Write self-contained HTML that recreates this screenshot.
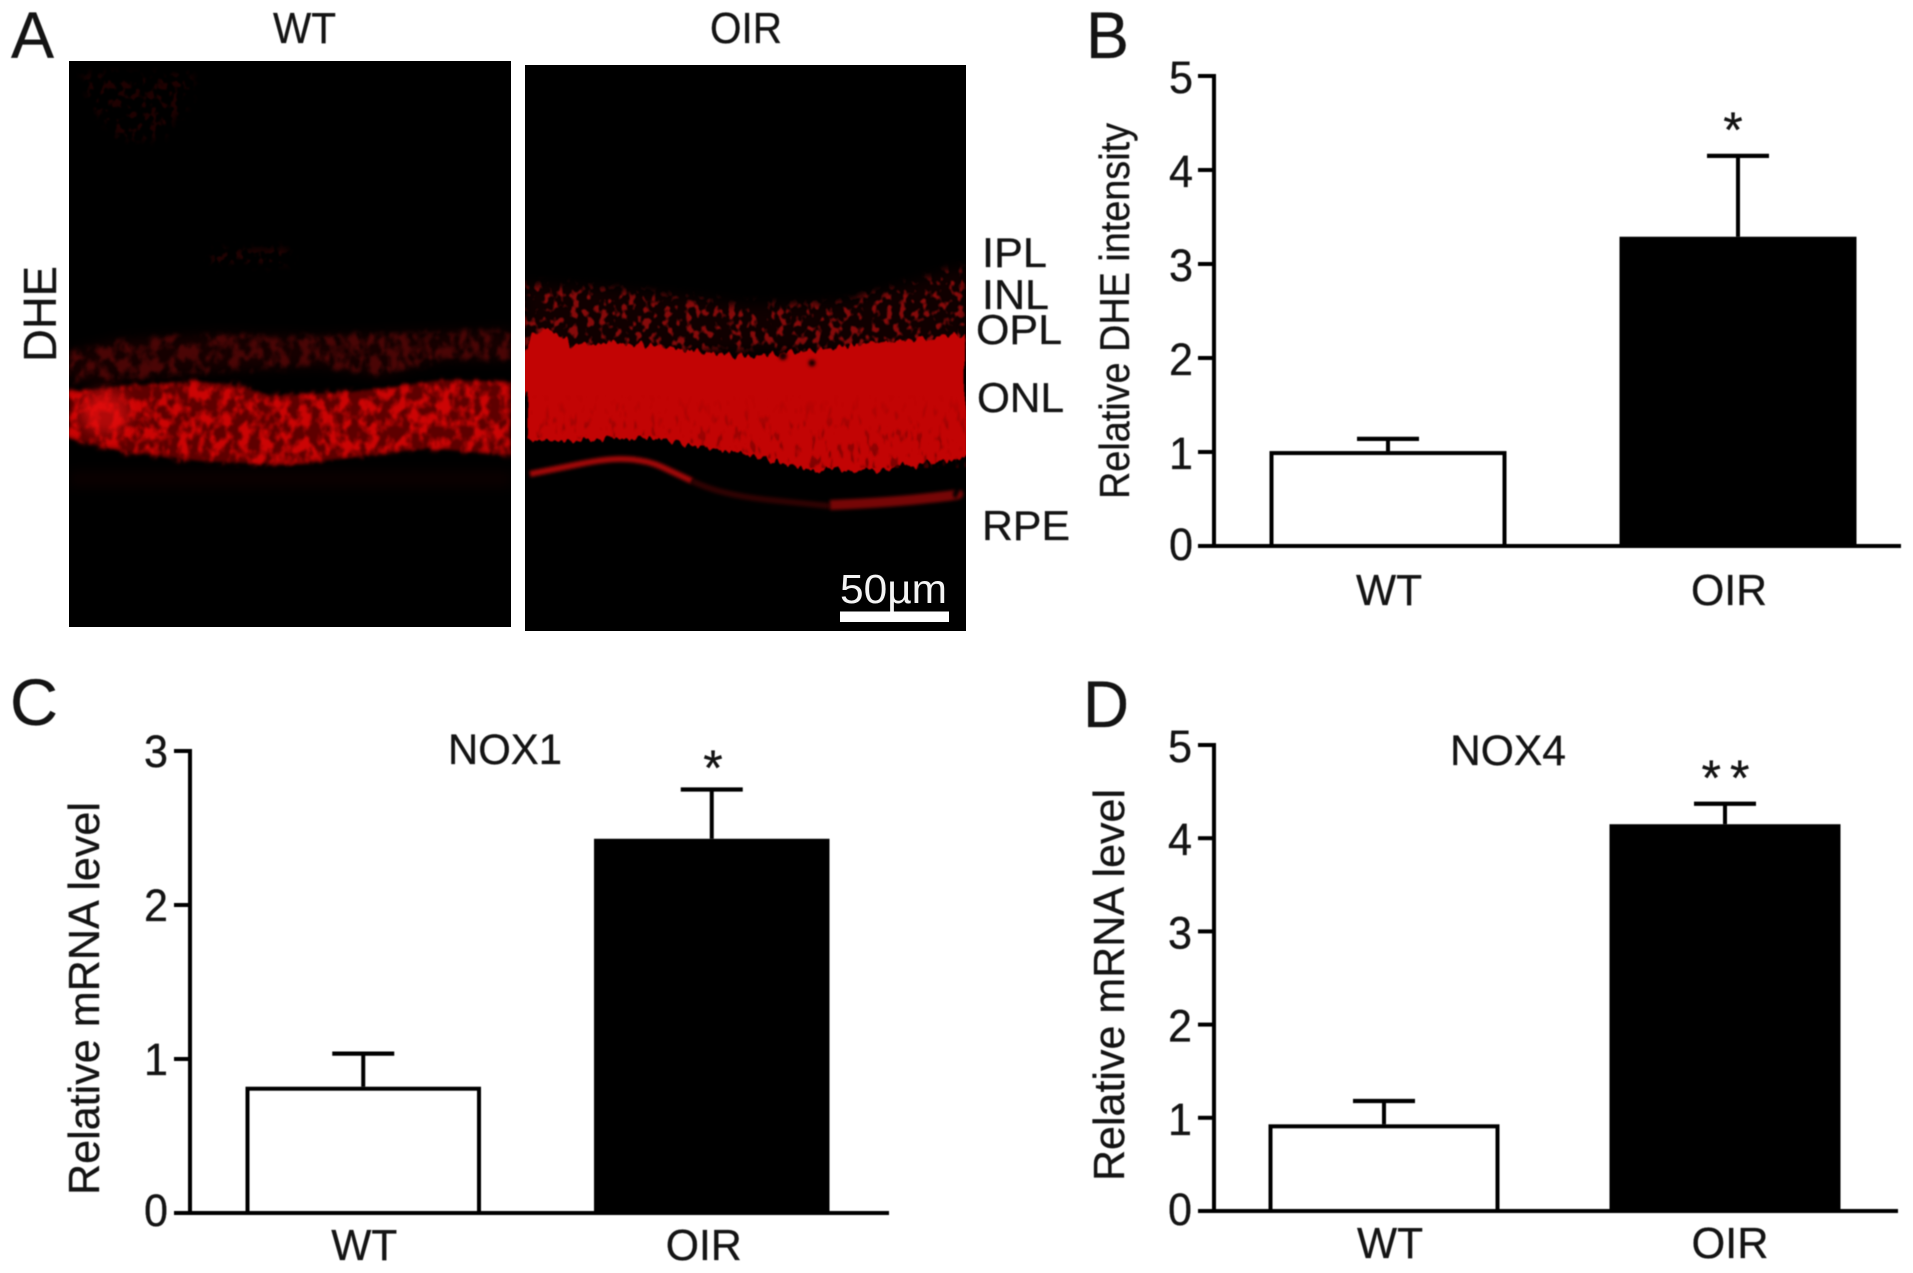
<!DOCTYPE html>
<html lang="en">
<head>
<meta charset="utf-8">
<title>DHE intensity and NOX mRNA levels, WT vs OIR</title>
<style>
  html, body { margin: 0; padding: 0; background: #fff; }
  svg { display: block; }
  text { font-family: "Liberation Sans", sans-serif; fill: #141414; stroke: #141414; stroke-width: 0.3; }
</style>
</head>
<body>
<svg id="figure" xmlns="http://www.w3.org/2000/svg" width="1913" height="1273" viewBox="0 0 1913 1273">
  <defs>
    <filter id="soft" x="-5%" y="-5%" width="110%" height="110%" color-interpolation-filters="sRGB">
      <feGaussianBlur stdDeviation="0.6"/>
    </filter>
    <filter id="blur1" filterUnits="userSpaceOnUse" x="0" y="0" width="1000" height="700" color-interpolation-filters="sRGB">
      <feGaussianBlur stdDeviation="1.6"/>
    </filter>
    <filter id="blur6" filterUnits="userSpaceOnUse" x="0" y="0" width="1000" height="700" color-interpolation-filters="sRGB">
      <feGaussianBlur stdDeviation="6"/>
    </filter>
    <filter id="mottle" filterUnits="userSpaceOnUse" x="0" y="0" width="1000" height="700" color-interpolation-filters="sRGB">
      <feTurbulence type="fractalNoise" baseFrequency="0.1 0.075" numOctaves="3" seed="4" result="n"/>
      <feDisplacementMap in="SourceGraphic" in2="n" scale="12" xChannelSelector="R" yChannelSelector="G" result="d"/>
      <feGaussianBlur in="d" stdDeviation="2" result="s"/>
      <feColorMatrix in="n" type="matrix" values="0 0 0 0 0  0 0 0 0 0  0 0 0 0 0  4 0 0 0 -1.6" result="m"/>
      <feComposite in="s" in2="m" operator="in"/>
      <feGaussianBlur stdDeviation="1"/>
    </filter>
    <filter id="speckle" filterUnits="userSpaceOnUse" x="0" y="0" width="1000" height="700" color-interpolation-filters="sRGB">
      <feTurbulence type="fractalNoise" baseFrequency="0.14 0.11" numOctaves="2" seed="11" result="n"/>
      <feDisplacementMap in="SourceGraphic" in2="n" scale="14" xChannelSelector="R" yChannelSelector="G" result="d"/>
      <feGaussianBlur in="d" stdDeviation="4" result="s"/>
      <feColorMatrix in="n" type="matrix" values="0 0 0 0 0  0 0 0 0 0  0 0 0 0 0  7 0 0 0 -3.7" result="m"/>
      <feComposite in="s" in2="m" operator="in"/>
      <feGaussianBlur stdDeviation="0.9"/>
    </filter>
    <filter id="jagged" filterUnits="userSpaceOnUse" x="0" y="0" width="1000" height="700" color-interpolation-filters="sRGB">
      <feTurbulence type="fractalNoise" baseFrequency="0.16 0.02" numOctaves="2" seed="3" result="n"/>
      <feDisplacementMap in="SourceGraphic" in2="n" scale="14" xChannelSelector="G" yChannelSelector="R"/>
      <feGaussianBlur stdDeviation="0.8"/>
    </filter>
    <filter id="holes" filterUnits="userSpaceOnUse" x="0" y="0" width="1000" height="700" color-interpolation-filters="sRGB">
      <feTurbulence type="fractalNoise" baseFrequency="0.18 0.07" numOctaves="2" seed="7" result="n"/>
      <feColorMatrix in="n" type="matrix" values="0 0 0 0 0  0 0 0 0 0  0 0 0 0 0  -7 0 0 0 3.0" result="m"/>
      <feComposite in="SourceGraphic" in2="m" operator="in"/>
      <feGaussianBlur stdDeviation="0.8"/>
    </filter>
    <linearGradient id="holeFade" gradientUnits="userSpaceOnUse" x1="0" y1="395" x2="0" y2="470">
      <stop offset="0" stop-color="#5a0000" stop-opacity="0"/>
      <stop offset="0.5" stop-color="#5a0000" stop-opacity="0.35"/>
      <stop offset="1" stop-color="#5a0000" stop-opacity="0.7"/>
    </linearGradient>
    <clipPath id="clipWT"><rect x="69" y="61" width="442" height="566"/></clipPath>
    <clipPath id="clipOIR"><rect x="525" y="65" width="441" height="566"/></clipPath>
  </defs>

  <rect x="0" y="0" width="1913" height="1273" fill="#ffffff"/>

  <!-- Panel A : micrographs -->
  <g clip-path="url(#clipWT)">
    <rect x="69" y="61" width="442" height="566" fill="#000"/>
    <g>
      <path d="M84 74H196L186 108L160 140L118 140L90 100Z" fill="#1f0101" filter="url(#speckle)"/>
      <path d="M212 250H290V264H212Z" fill="#260202" filter="url(#speckle)"/>
      <path d="M70 472H511V486H70Z" fill="#0c0000" filter="url(#blur6)"/>
    </g>
    <g>
      <path d="M69 352L120 340L220 334L320 336L420 332L511 330V360L440 360L380 376L320 366L240 370L160 376L69 382Z" fill="#160000" filter="url(#blur6)"/>
      <path d="M69 352L120 340L220 334L320 336L420 332L511 330V360L440 360L380 376L320 366L240 370L160 376L69 382Z" fill="#4a0505" filter="url(#mottle)"/>
    </g>
    <g>
      <path d="M69 392L130 386L200 382L240 386L270 396L310 394L350 392L400 386L440 380L511 382V455L470 452L430 448L370 455L290 465L200 461L120 451L69 438Z" fill="#5e0000" filter="url(#blur1)"/>
      <path d="M69 392L130 386L200 382L240 386L270 396L310 394L350 392L400 386L440 380L511 382V455L470 452L430 448L370 455L290 465L200 461L120 451L69 438Z" fill="#cc0404" filter="url(#mottle)"/>
      <ellipse cx="105" cy="412" rx="26" ry="22" fill="#e81010" opacity="0.6" filter="url(#blur6)"/>
    </g>
  </g>

  <g clip-path="url(#clipOIR)">
    <rect x="525" y="65" width="441" height="566" fill="#000"/>
    <g>
      <path d="M525 284L600 288L680 296L750 306L850 302L910 284L966 266V350H525Z" fill="#100000" filter="url(#blur6)"/>
      <path d="M525 284L600 288L680 296L750 306L850 302L910 284L966 266V350H525Z" fill="#860a0a" filter="url(#speckle)"/>
    </g>
    <g>
      <path d="M525 345L532 334L545 327L558 333L572 345L610 343L650 345L700 352L750 356L800 352L850 346L900 340L966 335V457L930 464L880 470L810 470L780 463L735 452L700 447L650 437L590 441L525 440Z" fill="#c20404" filter="url(#jagged)"/>
      <path d="M525 395H966V468L880 468L810 468L780 461L735 450L700 445L650 435L590 439L525 438Z" fill="url(#holeFade)" filter="url(#holes)"/>
      <circle cx="783" cy="356" r="4" fill="#1a0000" filter="url(#blur1)"/>
      <circle cx="812" cy="363" r="3.5" fill="#1a0000" filter="url(#blur1)"/>
    </g>
    <g>
      <path d="M530 474Q555 469 580 464T620 459Q645 459 662 467T692 481" fill="none" stroke="#a00808" stroke-width="6" filter="url(#blur1)"/>
      <path d="M692 481Q720 495 770 500T830 506" fill="none" stroke="#300202" stroke-width="6" filter="url(#blur1)"/>
      <path d="M830 505Q880 503 920 499T958 494" fill="none" stroke="#760606" stroke-width="10" filter="url(#blur1)"/>
    </g>
    <text x="840" y="603" font-size="41" textLength="107" lengthAdjust="spacingAndGlyphs" style="fill:#f4f4f4;stroke:none">50µm</text>
    <rect x="840" y="611.5" width="109" height="10.5" fill="#ffffff"/>
  </g>

  <g filter="url(#soft)">
    <text x="11" y="58" font-size="66" textLength="43" lengthAdjust="spacingAndGlyphs">A</text>
    <text x="1086" y="58" font-size="66" textLength="43" lengthAdjust="spacingAndGlyphs">B</text>
    <text x="10" y="725" font-size="66" textLength="48" lengthAdjust="spacingAndGlyphs">C</text>
    <text x="1083" y="727" font-size="66" textLength="46" lengthAdjust="spacingAndGlyphs">D</text>

    <text x="273" y="43" font-size="44" textLength="63" lengthAdjust="spacingAndGlyphs">WT</text>
    <text x="710" y="43" font-size="44" textLength="72" lengthAdjust="spacingAndGlyphs">OIR</text>
    <text transform="translate(56 362) rotate(-90)" font-size="46" textLength="96" lengthAdjust="spacingAndGlyphs">DHE</text>

    <text x="982" y="267" font-size="42" textLength="65" lengthAdjust="spacingAndGlyphs">IPL</text>
    <text x="982" y="309" font-size="42" textLength="67" lengthAdjust="spacingAndGlyphs">INL</text>
    <text x="976" y="344" font-size="42" textLength="86" lengthAdjust="spacingAndGlyphs">OPL</text>
    <text x="977" y="412" font-size="42" textLength="87" lengthAdjust="spacingAndGlyphs">ONL</text>
    <text x="982" y="540" font-size="42" textLength="88" lengthAdjust="spacingAndGlyphs">RPE</text>

    <text transform="translate(1129 499) rotate(-90)" font-size="42" textLength="376" lengthAdjust="spacingAndGlyphs">Relative DHE intensity</text>
    <text transform="translate(99 1195) rotate(-90)" font-size="44" textLength="393" lengthAdjust="spacingAndGlyphs">Relative mRNA level</text>
    <text transform="translate(1124 1181) rotate(-90)" font-size="44" textLength="392" lengthAdjust="spacingAndGlyphs">Relative mRNA level</text>

    <text x="448" y="764" font-size="43" textLength="114" lengthAdjust="spacingAndGlyphs">NOX1</text>
    <text x="1450" y="765" font-size="43" textLength="116" lengthAdjust="spacingAndGlyphs">NOX4</text>

    <text x="1733" y="147" font-size="50" text-anchor="middle">*</text>
    <text x="713" y="785" font-size="50" text-anchor="middle">*</text>
    <text x="1730" y="795" font-size="50" text-anchor="middle" letter-spacing="9">**</text>
  </g>

  <g id="charts" filter="url(#soft)"></g>
</svg>

<script>
// ---- Chart data ----
const categories = ['WT', 'OIR'];

const chartBMeans = [1.01, 3.29];
const chartBUpper = [1.14, 4.15];
const chartBTicks = [0, 1, 2, 3, 4, 5];

const chartCMeans = [0.82, 2.43];
const chartCUpper = [1.035, 2.75];
const chartCTicks = [0, 1, 2, 3];

const chartDMeans = [0.93, 4.15];
const chartDUpper = [1.18, 4.37];
const chartDTicks = [0, 1, 2, 3, 4, 5];

const SVG_NS = 'http://www.w3.org/2000/svg';
const root = document.getElementById('charts');

function mk(tag, attrs, parent) {
  const el = document.createElementNS(SVG_NS, tag);
  for (const k in attrs) el.setAttribute(k, attrs[k]);
  parent.appendChild(el);
  return el;
}

function drawChart(id, means, upper, ticks, o) {
  const STROKE = 4;
  const yMax = ticks[ticks.length - 1];
  const yScale = v => o.y0 - (v / yMax) * (o.y0 - o.yTop);
  const xBand = i => o.barX + i * o.step;

  const g = mk('g', {}, root);
  
  

  // bars
  means.forEach((m, i) => {
    const isFilled = i === 1;
    const bar = mk('rect', {
      x: xBand(i) + STROKE / 2,
      y: yScale(m) + STROKE / 2,
      width: o.barW - STROKE,
      height: Math.max(0, o.y0 - yScale(m) - STROKE / 2),
      fill: isFilled ? '#000' : '#fff',
      stroke: '#000',
      'stroke-width': STROKE
    }, g);
    
    

    const cx = xBand(i) + o.barW / 2;
    const stem = mk('line', { x1: cx, x2: cx, y1: yScale(m), y2: yScale(upper[i]), stroke: '#000', 'stroke-width': STROKE }, g);
    
    

    const cap = mk('line', { x1: cx - 31, x2: cx + 31, y1: yScale(upper[i]), y2: yScale(upper[i]), stroke: '#000', 'stroke-width': 4.2 }, g);
    
    

    const lab = mk('text', {
      x: cx + o.catOffset[i],
      y: o.catY,
      'font-size': 44,
      'text-anchor': 'middle',
      textLength: o.catLen[i],
      lengthAdjust: 'spacingAndGlyphs'
    }, g);
    lab.textContent = categories[i];
    
    
  });

  // axes
  const yAxis = mk('line', { x1: o.x0, x2: o.x0, y1: o.yTop - STROKE / 2, y2: o.y0 + STROKE / 2, stroke: '#000', 'stroke-width': STROKE }, g);
  
  

  const xAxis = mk('line', { x1: o.x0 - o.tickLen, x2: o.xEnd, y1: o.y0, y2: o.y0, stroke: '#000', 'stroke-width': STROKE }, g);
  
  

  // ticks and tick labels
  ticks.forEach(t => {
    const tick = mk('line', { x1: o.x0 - o.tickLen, x2: o.x0, y1: yScale(t), y2: yScale(t), stroke: '#000', 'stroke-width': STROKE }, g);
    
    

    const label = mk('text', {
      x: o.tickLabelX,
      y: yScale(t) + o.tickLabelDy + (t === 0 ? -2 : 1),
      'font-size': 45,
      'text-anchor': 'end',
      textLength: 24,
      lengthAdjust: 'spacingAndGlyphs'
    }, g);
    label.textContent = String(t);
    
    
  });
}

drawChart('chart-b', chartBMeans, chartBUpper, chartBTicks, {
  x0: 1214, y0: 546, yTop: 76, xEnd: 1901, tickLen: 16,
  barX: 1269.5, barW: 237, step: 350,
  tickLabelX: 1193, tickLabelDy: 16,
  catY: 605, catOffset: [1, -9], catLen: [66, 76]
});

drawChart('chart-c', chartCMeans, chartCUpper, chartCTicks, {
  x0: 190, y0: 1213, yTop: 751, xEnd: 889, tickLen: 16,
  barX: 245.5, barW: 235.5, step: 348.5,
  tickLabelX: 168, tickLabelDy: 15,
  catY: 1260, catOffset: [1, -8], catLen: [66, 76]
});

drawChart('chart-d', chartDMeans, chartDUpper, chartDTicks, {
  x0: 1214, y0: 1211, yTop: 745, xEnd: 1898, tickLen: 16,
  barX: 1268.5, barW: 231, step: 341,
  tickLabelX: 1192, tickLabelDy: 16,
  catY: 1258, catOffset: [6, 5], catLen: [66, 77]
});
</script>
</body>
</html>
